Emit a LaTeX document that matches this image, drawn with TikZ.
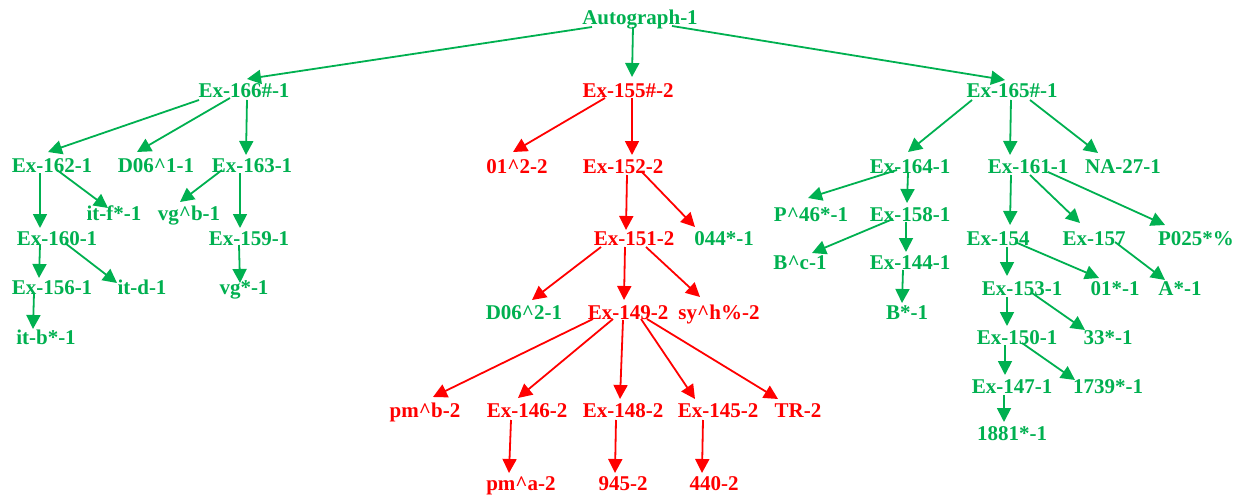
\documentclass[tikz,border=0pt]{standalone}
\usepackage{fontspec}
\setmainfont{Liberation Serif}
\usetikzlibrary{arrows.meta}
\definecolor{gr}{RGB}{0,176,80}
\definecolor{rd}{RGB}{255,0,0}
\newcommand{\ca}{\textasciicircum}
% \lnk{style}{from}{dx}{dy}{to}{dx}{dy}
\newcommand{\lnk}[7]{\draw[#1] ([shift={(#3,#4)}]#2.center) -- ([shift={(#6,#7)}]#5.center);}
\begin{document}
\begin{tikzpicture}[x=1pt,y=-1pt,
  lab/.style={font=\fontsize{21}{24}\selectfont\bfseries, inner ysep=0pt, inner xsep=-7pt,
              text height=16.5pt, text depth=2.5pt, anchor=center},
  g/.style={lab, text=gr},
  r/.style={lab, text=rd},
  edge/.style={line width=1.8pt, -{Triangle[length=14pt,width=14pt]}},
  ge/.style={edge, draw=gr},
  re/.style={edge, draw=rd}]
\useasboundingbox (0,0) rectangle (1243,495);
% top
\node[g] (A) at (640,18) {Autograph-1};
\node[g] (n166) at (244,91) {Ex-166\#-1};
\node[r] (n155) at (628,91) {Ex-155\#-2};
\node[g] (n165) at (1012,91) {Ex-165\#-1};
% left subtree
\node[g] (n162) at (52,165) {Ex-162-1};
\node[g] (d061) at (156,165) {D06\ca1-1};
\node[g] (n163) at (252,165) {Ex-163-1};
\node[g] (itf) at (114,213) {it-f*-1};
\node[g] (vgb) at (189,213) {vg\ca b-1};
\node[g] (n160) at (57,238) {Ex-160-1};
\node[g] (n159) at (249,238) {Ex-159-1};
\node[g] (n156) at (52,287) {Ex-156-1};
\node[g] (itd) at (142,287) {it-d-1};
\node[g] (vgs) at (244,287) {vg*-1};
\node[g] (itb) at (46,337) {it-b*-1};
% middle subtree
\node[r] (o12) at (517,166) {01\ca2-2};
\node[r] (n152) at (623,166) {Ex-152-2};
\node[r] (n151) at (634,238) {Ex-151-2};
\node[g] (o44) at (724,238) {044*-1};
\node[g] (d062) at (524,312) {D06\ca2-1};
\node[r] (n149) at (628,312) {Ex-149-2};
\node[r] (syh) at (719,312) {sy\ca h\%-2};
\node[r] (pmb) at (425,410) {pm\ca b-2};
\node[r] (n146) at (527,410) {Ex-146-2};
\node[r] (n148) at (623,410) {Ex-148-2};
\node[r] (n145) at (718,410) {Ex-145-2};
\node[r] (tr) at (798,410) {TR-2};
\node[r] (pma) at (521,483) {pm\ca a-2};
\node[r] (n945) at (623,483) {945-2};
\node[r] (n440) at (714,483) {440-2};
% right subtree
\node[g] (n164) at (910,166) {Ex-164-1};
\node[g] (n161) at (1028,166) {Ex-161-1};
\node[g] (na27) at (1123,166) {NA-27-1};
\node[g] (p46) at (811,214) {P\ca 46*-1};
\node[g] (n158) at (910,214) {Ex-158-1};
\node[g] (bc) at (800,262) {B\ca c-1};
\node[g] (n144) at (910,262) {Ex-144-1};
\node[g] (bs) at (907,312) {B*-1};
\node[g] (n154) at (998,238) {Ex-154};
\node[g] (n157) at (1094,238) {Ex-157};
\node[g] (p025) at (1196,238) {P025*\%};
\node[g] (n153) at (1022,288) {Ex-153-1};
\node[g] (o1s) at (1115,288) {01*-1};
\node[g] (as) at (1180,288) {A*-1};
\node[g] (n150) at (1017,337) {Ex-150-1};
\node[g] (s33) at (1108,337) {33*-1};
\node[g] (n147) at (1012,386) {Ex-147-1};
\node[g] (s1739) at (1108,386) {1739*-1};
\node[g] (s1881) at (1012,433) {1881*-1};
% edges
\lnk{ge}{A}{-48}{9}{n166}{3}{-12}
\lnk{ge}{A}{-7}{9}{n155}{4}{-14}
\lnk{ge}{A}{32}{8}{n165}{-7}{-11}
\lnk{ge}{n166}{-45}{9}{n162}{-4}{-13}
\lnk{ge}{n166}{-14}{7}{d061}{-19}{-13}
\lnk{ge}{n166}{3}{9}{n163}{-6}{-10}
\lnk{ge}{n162}{-12}{8}{n160}{-17}{-10}
\lnk{ge}{n162}{5}{5}{itf}{-6}{-5}
\lnk{ge}{n163}{-30}{5}{vgb}{-9}{-11}
\lnk{ge}{n163}{-12}{8}{n159}{-9}{-10}
\lnk{ge}{n160}{-17}{7}{n156}{-13}{-9}
\lnk{ge}{n160}{8}{5}{itd}{-25}{-4}
\lnk{ge}{n156}{-18}{6}{itb}{-13}{-8}
\lnk{ge}{n159}{-10}{7}{vgs}{-4}{-4}
\lnk{re}{n155}{-23}{7}{o12}{-4}{-14}
\lnk{re}{n155}{4}{7}{n152}{9}{-11}
\lnk{re}{n152}{4}{9}{n151}{-8}{-8}
\lnk{re}{n152}{19}{6}{o44}{-29}{-11}
\lnk{re}{n151}{-33}{9}{d062}{8}{-12}
\lnk{re}{n151}{-9}{9}{n149}{-4}{-12}
\lnk{re}{n151}{12}{9}{syh}{-19}{-15}
\lnk{re}{n149}{-35}{7}{pmb}{8}{-13}
\lnk{re}{n149}{-15}{7}{n146}{-9}{-12}
\lnk{re}{n149}{-5}{8}{n148}{-3}{-11}
\lnk{re}{n149}{13}{7}{n145}{-23}{-11}
\lnk{re}{n149}{19}{7}{tr}{-20}{-11}
\lnk{re}{n146}{-16}{10}{pma}{-12}{-10}
\lnk{re}{n148}{-7}{10}{n945}{-8}{-10}
\lnk{re}{n145}{-15}{10}{n440}{-12}{-10}
\lnk{ge}{n165}{-40}{9}{n164}{-2}{-14}
\lnk{ge}{n165}{-1}{9}{n161}{-18}{-11}
\lnk{ge}{n165}{18}{9}{na27}{-25}{-13}
\lnk{ge}{n164}{-13}{4}{p46}{-3}{-16}
\lnk{ge}{n164}{-2}{7}{n158}{-3}{-11}
\lnk{ge}{n158}{-17}{5}{bc}{12}{-9}
\lnk{ge}{n158}{-4}{8}{n144}{-4}{-10}
\lnk{ge}{n144}{-7}{8}{bs}{-5}{-9}
\lnk{ge}{n161}{-17}{9}{n154}{12}{-13}
\lnk{ge}{n161}{2}{9}{n157}{-14}{-15}
\lnk{ge}{n161}{20}{6}{p025}{-31}{-13}
\lnk{ge}{n154}{9}{9}{n153}{-15}{-12}
\lnk{ge}{n154}{17}{4}{o1s}{-16}{-10}
\lnk{ge}{n157}{21}{4}{as}{-15}{-8}
\lnk{ge}{n153}{-15}{9}{n150}{-10}{-11}
\lnk{ge}{n153}{10}{5}{s33}{-23}{-7}
\lnk{ge}{n150}{-12}{8}{n147}{-7}{-11}
\lnk{ge}{n150}{5}{6}{s1739}{-33}{-6}
\lnk{ge}{n147}{-8}{9}{s1881}{-8}{-11}
\end{tikzpicture}
\end{document}
